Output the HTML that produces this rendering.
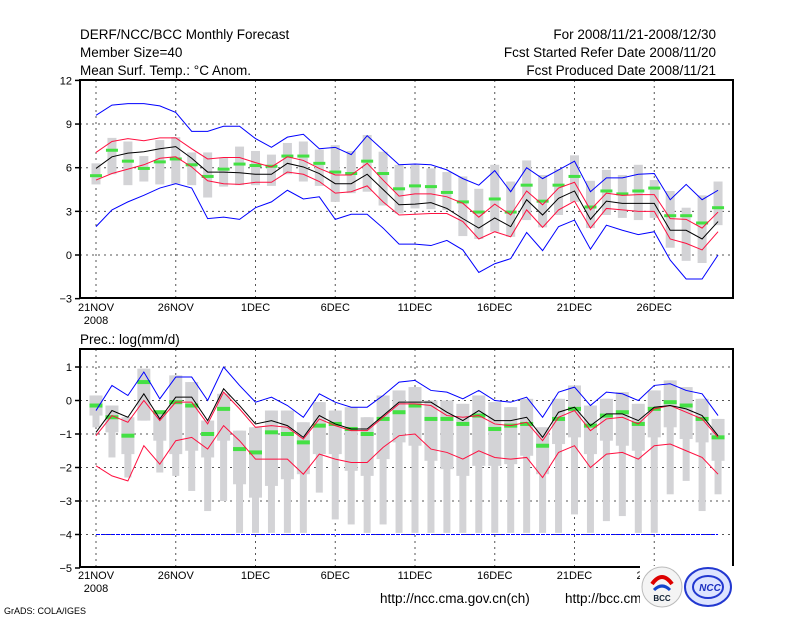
<!DOCTYPE html>
<html><head><meta charset="utf-8"><style>
html,body{margin:0;padding:0;background:#fff;}
svg{display:block;font-family:"Liberation Sans",sans-serif;}
</style></head><body>
<svg id="c" width="800" height="618" viewBox="0 0 800 618">
<g font-size="13.5" fill="#000">
<text x="80" y="39">DERF/NCC/BCC Monthly Forecast</text>
<text x="80" y="57">Member Size=40</text>
<text x="80" y="75">Mean Surf. Temp.: °C Anom.</text>
<text x="716" y="39" text-anchor="end">For 2008/11/21-2008/12/30</text>
<text x="716" y="57" text-anchor="end">Fcst Started Refer Date 2008/11/20</text>
<text x="716" y="75" text-anchor="end">Fcst Produced Date 2008/11/21</text>
<text x="80" y="344">Prec.: log(mm/d)</text>
<text x="380" y="603">http://ncc.cma.gov.cn(ch)</text>
<text x="565" y="603">http://bcc.cma.gov.cn</text>
<text x="4" y="614" font-size="9">GrADS: COLA/IGES</text>
</g>
<g id="top"></g>
<g id="bot"></g>
<g>
<rect x="640" y="566" width="94" height="46" fill="#fff"/>
<circle cx="662" cy="587" r="20" fill="#f4f4f4" stroke="#bbb"/>
<path d="M652 584 q10 -14 20 0" stroke="#d00" stroke-width="4" fill="none"/>
<path d="M654 590 q8 -8 16 0" stroke="#14c" stroke-width="3" fill="none"/>
<text x="662" y="601" font-size="8" font-weight="bold" text-anchor="middle" fill="#123">BCC</text>
<ellipse cx="708" cy="587" rx="23" ry="19" fill="#dde4ff" stroke="#2238d0" stroke-width="2"/>
<ellipse cx="708" cy="587" rx="15" ry="11" fill="none" stroke="#2238d0" stroke-width="2"/>
<text x="710" y="591" font-size="10" font-style="italic" font-weight="bold" text-anchor="middle" fill="#1a2fc0">NCC</text>
</g>
</svg>
<script>
const days = Array.from({length:40},(_,i)=>i);
const xLabels = ["21NOV","26NOV","1DEC","6DEC","11DEC","16DEC","21DEC","26DEC"];
const tTicks = [12,9,6,3,0,-3];
const pTicks = [1,0,-1,-2,-3,-4,-5];
// Temperature anomaly series
const tMax = [9.6,10.3,10.4,10.4,10.25,9.8,8.5,8.5,8.85,8.85,8.0,7.4,8.1,8.3,7.3,7.4,6.9,8.2,7.2,6.2,6.25,6.2,5.85,5.25,4.8,5.8,4.35,6.0,5.25,5.85,6.45,4.35,5.3,5.3,5.55,5.6,3.8,4.85,3.8,4.45];
const tMin = [1.95,3.1,3.65,4.1,4.6,4.9,4.6,2.5,2.6,2.45,3.25,3.65,4.45,3.85,4.0,2.45,2.8,2.8,1.85,0.75,0.75,0.65,1.0,0.35,-1.2,-0.6,-0.25,1.55,0.3,1.95,2.4,0.4,2.05,1.7,1.4,1.6,-0.35,-1.65,-1.65,0.0];
const tMean = [5.95,6.75,7.0,7.1,7.3,7.45,6.65,5.7,5.7,5.65,5.55,5.55,6.3,6.05,5.6,4.9,4.9,5.55,4.5,3.45,3.5,3.6,3.2,2.5,1.85,2.55,1.95,3.8,2.75,3.9,4.4,2.45,3.7,3.55,3.55,3.55,1.7,1.7,1.1,2.3];
const tUp = [7.05,7.8,8.0,7.85,8.05,8.05,7.3,6.6,6.7,6.7,6.35,6.05,6.75,6.5,5.95,5.5,5.5,6.3,5.15,4.05,4.2,4.2,4.0,3.55,2.6,3.5,2.75,4.4,3.45,4.6,5.0,3.1,4.25,4.1,4.15,4.15,2.5,2.45,1.85,2.95];
const tLo = [5.15,5.6,5.9,6.2,6.65,6.75,6.05,5.1,4.9,4.85,5.0,5.0,5.7,5.55,5.05,4.25,4.35,4.75,3.65,2.75,2.8,2.85,2.85,2.3,1.1,1.6,1.25,3.1,1.9,3.1,3.7,1.85,3.2,3.1,3.0,3.0,1.1,0.8,0.35,1.6];
const tObs = [5.45,7.2,6.45,5.95,6.4,6.6,6.2,5.4,5.9,6.25,6.15,6.1,6.8,6.8,6.3,5.7,5.6,6.45,5.6,4.55,4.75,4.7,4.3,3.65,2.95,3.85,2.95,4.8,3.7,4.8,5.4,3.3,4.4,4.2,4.4,4.6,2.7,2.7,2.2,3.25];
const tBarHi = [6.3,8.05,7.8,6.8,7.9,8.1,7.05,7.05,6.7,7.45,7.15,6.9,7.7,7.8,7.25,7.55,7.15,8.25,7.1,6.2,6.2,5.95,5.7,5.4,4.55,6.2,5.05,6.5,5.5,5.9,6.85,5.1,5.85,5.5,6.2,5.15,4.4,3.25,4.1,5.05];
const tBarLo = [4.85,5.55,4.8,5.05,4.85,4.9,4.8,3.95,4.7,4.8,4.8,4.75,5.55,5.05,4.75,3.65,4.25,4.35,3.4,2.85,3.2,3.15,3.1,1.3,1.1,1.6,1.25,2.4,1.9,2.75,3.65,1.85,2.75,2.55,2.4,2.55,0.5,-0.4,-0.55,2.05];
// Precipitation series
const pMax = [-0.3,0.45,0.15,0.85,0.05,0.7,0.7,0.0,1.0,0.45,-0.05,0.1,-0.15,-0.5,0.2,-0.05,-0.2,-0.2,0.15,0.55,0.6,0.3,0.25,0.05,0.3,0.0,-0.05,0.1,-0.5,0.25,0.4,-0.15,0.25,0.2,0.0,0.45,0.5,0.3,0.2,-0.45];
const pMin = [-4,-4,-4,-4,-4,-4,-4,-4,-4,-4,-4,-4,-4,-4,-4,-4,-4,-4,-4,-4,-4,-4,-4,-4,-4,-4,-4,-4,-4,-4,-4,-4,-4,-4,-4,-4,-4,-4,-4,-4];
const pMean = [-0.95,-0.3,-0.5,0.2,-0.55,0.1,0.1,-0.6,0.35,-0.15,-0.7,-0.6,-0.75,-1.1,-0.45,-0.7,-0.85,-0.85,-0.45,-0.05,-0.05,-0.05,-0.35,-0.6,-0.3,-0.6,-0.6,-0.5,-1.1,-0.35,-0.2,-0.75,-0.4,-0.4,-0.6,-0.2,-0.15,-0.25,-0.45,-1.05];
const pUp = [-1.05,-0.45,-0.65,0.0,-0.6,-0.05,-0.05,-0.7,0.25,-0.25,-0.8,-0.75,-0.8,-1.15,-0.55,-0.75,-0.9,-0.9,-0.5,-0.1,-0.1,-0.15,-0.45,-0.5,-0.45,-0.7,-0.75,-0.65,-1.2,-0.5,-0.3,-0.9,-0.55,-0.5,-0.7,-0.25,-0.15,-0.35,-0.55,-1.1];
const pLo = [-1.95,-2.25,-2.4,-1.35,-1.9,-1.2,-1.1,-1.45,-0.75,-1.2,-1.75,-1.75,-1.75,-2.2,-1.6,-1.75,-1.85,-1.85,-1.4,-1.05,-1.0,-1.45,-1.55,-1.75,-1.5,-1.7,-1.75,-1.7,-2.3,-1.55,-1.35,-2.0,-1.6,-1.55,-1.75,-1.35,-1.3,-1.5,-1.7,-2.2];
const pObs = [-0.15,-0.5,-1.05,0.55,-0.35,-0.05,-0.15,-1.0,-0.25,-1.45,-1.55,-0.95,-1.0,-1.25,-0.75,-0.7,-0.85,-1.0,-0.55,-0.35,-0.15,-0.55,-0.55,-0.7,-0.45,-0.85,-0.75,-0.7,-1.35,-0.55,-0.25,-0.75,-0.45,-0.35,-0.7,-0.25,-0.05,-0.15,-0.55,-1.1];
const pWhHi = [0.15,-0.15,-0.5,0.95,-0.3,0.75,0.55,-0.6,0.2,-0.9,-0.8,-0.3,-0.3,-0.65,-0.05,-0.3,-0.2,-0.5,0.15,0.3,0.4,0.0,0.0,-0.1,0.15,-0.05,-0.2,0.05,-0.8,0.05,0.45,-0.15,0.05,0.25,-0.1,0.3,0.6,0.4,0.05,-0.55];
const pWhLo = [-0.8,-1.7,-2.3,-0.6,-2.15,-2.25,-2.7,-3.3,-3.0,-3.95,-3.95,-3.95,-3.95,-3.95,-2.75,-3.55,-3.7,-3.95,-3.7,-3.95,-3.95,-3.95,-3.95,-3.95,-3.95,-3.95,-3.95,-3.95,-3.95,-3.95,-3.4,-3.95,-3.6,-3.45,-3.95,-3.95,-2.8,-2.4,-3.3,-2.8];
const pBoxLo = [-0.45,-0.95,-1.6,-0.6,-1.2,-1.6,-1.5,-1.7,-1.2,-2.5,-2.9,-2.55,-2.35,-2.2,-1.6,-1.6,-2.1,-2.25,-1.75,-1.25,-1.35,-1.8,-2.05,-2.25,-1.95,-1.95,-1.9,-1.65,-2.2,-1.3,-1.1,-1.6,-1.2,-1.35,-1.5,-1.1,-0.8,-1.15,-1.25,-1.8];

const NS="http://www.w3.org/2000/svg";
const xS = d => 96 + d*15.95;
const yT = v => 255 - v*14.55;
const yB = v => 400.5 - v*33.5;
function mk(parent, tag, attrs){ const e=document.createElementNS(NS,tag); for(const k in attrs) e.setAttribute(k,attrs[k]); parent.appendChild(e); return e; }

function panel(g, y, top, bottom, ticks, labY){
  for(let i=0;i<xLabels.length;i++){
    const x=xS(i*5);
    const gl=mk(g,'line',{x1:x,x2:x,y1:top,y2:bottom,stroke:'#555','stroke-dasharray':'2,4','stroke-width':1});
    
    
    const t=mk(g,'text',{x:x,y:labY,'font-size':11,'text-anchor':'middle'});
    t.textContent=xLabels[i];
    
    
  }
  const yr=mk(g,'text',{x:96,y:labY+13,'font-size':11,'text-anchor':'middle'});
  yr.textContent='2008';
  
  
  ticks.forEach(v=>{
    const yy=y(v);
    if(yy>top+2 && yy<bottom-2){
      const gl=mk(g,'line',{x1:80,x2:733,y1:yy,y2:yy,stroke:'#555','stroke-dasharray':'2,4','stroke-width':1});
      
      
    }
    mk(g,'line',{x1:75,x2:80,y1:yy,y2:yy,stroke:'#000','stroke-width':1.5});
    const t=mk(g,'text',{x:72,y:yy+4,'font-size':11,'text-anchor':'end'});
    t.textContent=String(v).replace('-','\u2212');
    
    
  });
}
function line(g, arr, y, color, name, dash){
  const p=mk(g,'polyline',{points:arr.map((v,i)=>xS(i)+','+y(v)).join(' '),fill:'none',stroke:color,'stroke-width':1});
  if(dash) p.setAttribute('stroke-dasharray',dash);
  
  
}
function obs(g, arr, y, h, w){
  arr.forEach((v,i)=>{
    const r=mk(g,'rect',{x:xS(i)-w/2,y:y(v)-h/2,width:w,height:h,fill:'#44e044'});
    
    
  });
}

// Top panel
const gt=document.getElementById('top');
panel(gt,yT,80,298,tTicks,311);
days.forEach(i=>{
  const r=mk(gt,'rect',{x:xS(i)-4.5,y:yT(tBarHi[i]),width:9,height:yT(tBarLo[i])-yT(tBarHi[i]),fill:'#d3d3d6'});
  
  
});
obs(gt,tObs,yT,3,12);
line(gt,tMax,yT,'#0000ff','temp-max-line');
line(gt,tMin,yT,'#0000ff','temp-min-line');
line(gt,tUp,yT,'#ff1040','temp-upper-line');
line(gt,tLo,yT,'#ff1040','temp-lower-line');
line(gt,tMean,yT,'#000','temp-mean-line');
const ft=mk(gt,'rect',{x:80,y:80,width:653,height:218,fill:'none',stroke:'#000','stroke-width':2});



// Bottom panel
const gb=document.getElementById('bot');
panel(gb,yB,349,567,pTicks,579);
days.forEach(i=>{
  const w=mk(gb,'rect',{x:xS(i)-3.5,y:yB(pWhHi[i]),width:7,height:yB(pWhLo[i])-yB(pWhHi[i]),fill:'#d3d3d6'});
  
  
  const b=mk(gb,'rect',{x:xS(i)-6.5,y:yB(pWhHi[i]),width:13,height:yB(pBoxLo[i])-yB(pWhHi[i]),fill:'#d3d3d6'});
  
  
});
obs(gb,pObs,yB,4,13);
line(gb,pMax,yB,'#0000ff','prec-max-line');
line(gb,pMin,yB,'#0000ff','prec-min-line','4,1');
line(gb,pUp,yB,'#ff1040','prec-upper-line');
line(gb,pLo,yB,'#ff1040','prec-lower-line');
line(gb,pMean,yB,'#000','prec-mean-line');
const fb=mk(gb,'rect',{x:80,y:349,width:653,height:218,fill:'none',stroke:'#000','stroke-width':2});


</script>
</body></html>
